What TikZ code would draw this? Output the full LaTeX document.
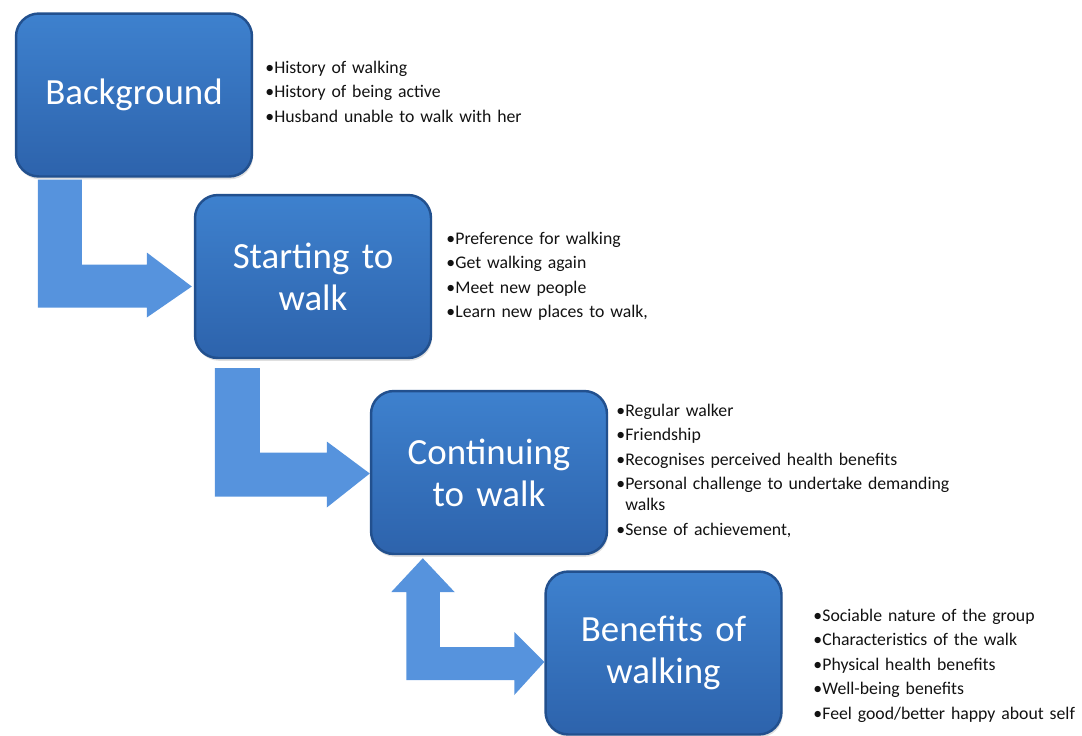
\documentclass[tikz,border=0pt]{standalone}
\usepackage{fontspec}
\setmainfont{Carlito}
\usepackage{tikz}
\usepackage{xcolor}
\usetikzlibrary{calc,positioning,shadows}
\definecolor{boxTop}{RGB}{62,129,206}
\definecolor{boxBottom}{RGB}{45,99,172}
\definecolor{boxEdge}{RGB}{34,80,142}
\definecolor{arrowBlue}{RGB}{86,147,221}
\definecolor{noteInk}{RGB}{18,18,18}
\newcommand{\noteitem}[1]{\hangindent=0.18cm\hangafter=1\noindent\makebox[0.18cm][l]{\textbullet}#1\par}

\begin{document}
\begin{tikzpicture}[x=0.02cm,y=-0.02cm,
  stagebox/.style={rounded corners=13pt,top color=boxTop,bottom color=boxBottom,draw=boxEdge,line width=1.4pt,
    minimum width=4.72cm,minimum height=3.26cm,text width=4.4cm,align=center,text=white,
    font=\fontsize{21}{24}\selectfont,drop shadow={opacity=0.25,shadow xshift=0.6pt,shadow yshift=-1.6pt}},
  notes/.style={anchor=base west,inner sep=0pt,text width=8cm,align=left,text=noteInk,
    font=\fontsize{10.1}{11.8}\selectfont\setlength{\parskip}{2.2pt}},
  flowArrow/.style={fill=arrowBlue}]
\useasboundingbox (0,0) rectangle (1082,735);

% the four stages
\node[stagebox] (bg) at (134,95) {Background};
\node[stagebox] (start) at (313,276.5) {Starting to\\walk};
\node[stagebox] (cont) at (489,472.5) {Continuing\\to walk};
\node[stagebox] (ben) at (663.5,653) {Benefits of\\walking};

% what each stage covers
\node[notes] (bgnotes) at (265,73) {\noteitem{History of walking}\noteitem{History of being active}\noteitem{Husband unable to walk with her}};
\node[notes] (startnotes) at (446,244) {\noteitem{Preference for walking}\noteitem{Get walking again}\noteitem{Meet new people}\noteitem{Learn new places to walk,}};
\node[notes] (contnotes) at (616,416) {\noteitem{Regular walker}\noteitem{Friendship}\noteitem{Recognises perceived health benefits}\noteitem{Personal challenge to undertake demanding\newline walks}\noteitem{Sense of achievement,}};
\node[notes] (bennotes) at (813,621) {\noteitem{Sociable nature of the group}\noteitem{Characteristics of the walk}\noteitem{Physical health benefits}\noteitem{Well-being benefits}\noteitem{Feel good/better happy about self}};

% bent block arrows between the stages
\fill[flowArrow] ($(bg.south west)+(23,2)$) coordinate (a1) -- ++(44,0)
  |- ($(start.west)+(-47,-12)$) -- ++(0,-12) -- ($(start.west)+(-2,10)$)
  -- ++(-45,31) -- ++(0,-10) -| (a1) -- cycle;
\fill[flowArrow] ($(start.south west)+(21,9)$) coordinate (a2) -- ++(45,0)
  |- ($(cont.west)+(-43,-20)$) -- ++(0,-11) -- ($(cont.west)+(0,1)$)
  -- ++(-43,34) -- ++(0,-11) -| (a2) -- cycle;
\fill[flowArrow] ($(cont.south west)+(53,3)$) -- ++(32,34) -- ++(-15,0)
  |- ($(ben.west)+(-30,-6)$) -- ++(0,-15) -- ($(ben.west)+(0,9)$)
  -- ++(-30,33) -- ++(0,-15) -- ++(-108,0) -- ++(0,-88) -- ++(-15,0) -- cycle;
\end{tikzpicture}
\end{document}
